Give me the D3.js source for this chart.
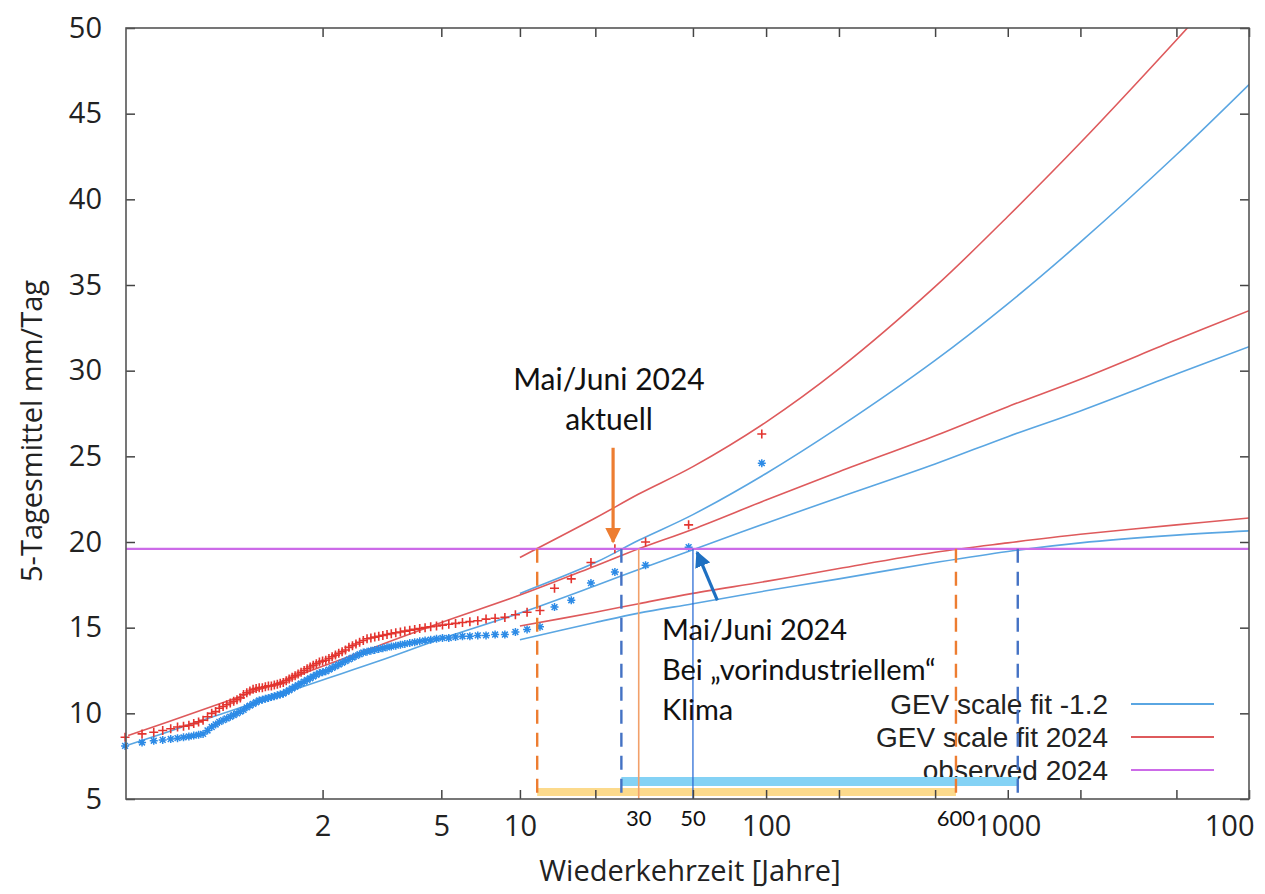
<!DOCTYPE html>
<html>
<head>
<meta charset="utf-8">
<script src="https://cdn.jsdelivr.net/npm/d3@7"></script>
<style>
  body { margin: 0; background: #fff; }
  svg text { font-family: "Open Sans", "DejaVu Sans", sans-serif; fill: #222; }
  .note { font-family: Lato, "Open Sans", sans-serif; fill: #111; }
  .legend-text { font-family: "Liberation Sans", Arial, sans-serif; fill: #222; }
</style>
</head>
<body>
<svg id="chart" width="1265" height="894"></svg>
<script>
// empirical return periods of the ranked 5-day maxima (rank 1 .. 95)
const returnPeriods = [
  96, 48, 32, 24, 19.2, 16, 13.71, 12, 10.67, 9.6,
  8.73, 8, 7.38, 6.86, 6.4, 6, 5.65, 5.33, 5.05, 4.8,
  4.57, 4.36, 4.17, 4, 3.84, 3.69, 3.56, 3.43, 3.31, 3.2,
  3.097, 3, 2.909, 2.824, 2.743, 2.667, 2.595, 2.526, 2.462, 2.4,
  2.341, 2.286, 2.233, 2.182, 2.133, 2.087, 2.043, 2, 1.959, 1.92,
  1.882, 1.846, 1.811, 1.778, 1.745, 1.714, 1.684, 1.655, 1.627, 1.6,
  1.574, 1.548, 1.524, 1.5, 1.477, 1.455, 1.433, 1.412, 1.391, 1.371,
  1.352, 1.333, 1.315, 1.297, 1.28, 1.263, 1.247, 1.231, 1.215, 1.2,
  1.185, 1.171, 1.157, 1.143, 1.129, 1.116, 1.103, 1.091, 1.079, 1.067,
  1.055, 1.043, 1.032, 1.021, 1.0105
];
// observations in the 2024 climate (red +)
const obs2024 = [
  26.3, 21.0, 20.0, 19.6, 18.8, 17.85, 17.3, 16.0, 15.9, 15.75,
  15.6, 15.55, 15.5, 15.4, 15.35, 15.3, 15.25, 15.2, 15.15, 15.1,
  15.05, 15.0, 14.95, 14.9, 14.85, 14.8, 14.75, 14.7, 14.65, 14.6,
  14.55, 14.5, 14.45, 14.4, 14.35, 14.25, 14.15, 14.05, 13.95, 13.85,
  13.7, 13.6, 13.5, 13.4, 13.3, 13.2, 13.1, 13.05, 13.0, 12.9,
  12.8, 12.7, 12.6, 12.5, 12.4, 12.3, 12.2, 12.1, 12.0, 11.9,
  11.8, 11.75, 11.7, 11.65, 11.6, 11.6, 11.55, 11.5, 11.5, 11.45,
  11.4, 11.3, 11.2, 11.1, 10.9, 10.8, 10.7, 10.6, 10.5, 10.4,
  10.3, 10.1, 10.0, 9.8, 9.6, 9.5, 9.4, 9.3, 9.25, 9.2,
  9.1, 9.0, 8.9, 8.8, 8.6
];
// same observations shifted to the -1.2 K climate (blue *)
const obsPre = [
  24.6, 19.7, 18.65, 18.25, 17.6, 16.6, 16.2, 15.05, 14.9, 14.75,
  14.6, 14.6, 14.55, 14.55, 14.5, 14.5, 14.45, 14.4, 14.4, 14.35,
  14.3, 14.25, 14.2, 14.15, 14.1, 14.05, 14.0, 13.95, 13.9, 13.85,
  13.8, 13.75, 13.7, 13.65, 13.6, 13.55, 13.45, 13.35, 13.25, 13.15,
  13.05, 12.95, 12.85, 12.75, 12.65, 12.55, 12.45, 12.4, 12.35, 12.25,
  12.15, 12.05, 11.95, 11.85, 11.75, 11.65, 11.55, 11.45, 11.35, 11.25,
  11.15, 11.1, 11.05, 11.0, 10.95, 10.9, 10.85, 10.8, 10.75, 10.65,
  10.55, 10.45, 10.35, 10.2, 10.1, 10.0, 9.9, 9.8, 9.7, 9.6,
  9.5, 9.35, 9.2, 9.0, 8.8, 8.75, 8.7, 8.65, 8.6, 8.55,
  8.5, 8.45, 8.4, 8.3, 8.1
];

// GEV fits, best estimate over full range
const fitT = [1.012, 1.1, 1.5, 2, 3, 5, 10, 20, 30, 50, 100, 200, 500, 1000, 2000, 5000, 10000];
const fit2024Mid = [8.7, 10.0, 11.7, 12.75, 13.95, 15.3, 16.9, 18.6, 19.6, 20.75, 22.45, 24.1, 26.2, 27.9, 29.5, 31.8, 33.5];
const fitPreMid = [8.15, 9.4, 11.0, 11.95, 13.05, 14.35, 15.85, 17.45, 18.4, 19.55, 21.1, 22.6, 24.55, 26.15, 27.65, 29.8, 31.4];
// confidence bounds, drawn from T = 10
const boundT = [10, 20, 30, 50, 100, 200, 500, 1000, 2000, 5000, 10000];
const fit2024Hi = [19.1, 21.4, 22.8, 24.4, 27.0, 30.1, 34.9, 39.0, 43.3, 49.3, 54.0];
const fit2024Lo = [15.1, 15.9, 16.4, 17.0, 17.7, 18.45, 19.4, 19.95, 20.45, 21.0, 21.4];
const fitPreHi = [17.0, 18.8, 20.1, 21.6, 24.0, 26.7, 30.6, 33.9, 37.5, 42.6, 46.7];
const fitPreLo = [14.3, 15.3, 15.85, 16.4, 17.15, 17.85, 18.8, 19.45, 19.95, 20.4, 20.65];

const observed2024 = 19.6;
const xTicks = [2, 5, 10, 20, 50, 100, 200, 500, 1000, 2000, 5000, 10000];
const xTickLabels = ["2", "5", "10", "", "", "100", "", "", "1000", "", "", "100"];
const yTicks = [5, 10, 15, 20, 25, 30, 35, 40, 45, 50];

// crossing points with the observed value (return periods)
const cross2024 = [11.7, 610];   // orange: 2024 climate upper / lower bound
const crossPre = [25.5, 1100];   // blue: pre-industrial upper / lower bound
const bestCross = { now: 30, pre: 50 };
const smallLabels = [{ T: 30, text: "30" }, { T: 50, text: "50" }, { T: 610, text: "600" }];

const legendItems = [
  { label: "GEV scale fit -1.2", color: "#5aa6e2" },
  { label: "GEV scale fit 2024", color: "#de5a5c" },
  { label: "observed 2024", color: "#cc6be8" }
];

const C = { red: "#de5a5c", blue: "#5aa6e2", redPt: "#e3342f", bluePt: "#2d8be6",
            magenta: "#cc6be8", orange: "#ed7d31", dblue: "#4472c4" };

const gumbel = T => -Math.log(-Math.log(1 - 1 / T));
const x = d3.scaleLinear().domain([-1.51, 9.21]).range([126, 1249]);
const y = d3.scaleLinear().domain([5, 50]).range([799, 28]);
const xT = T => x(gumbel(T));
const [plotLeft, plotRight] = x.range();
const [plotBottom, plotTop] = y.range();

const svg = d3.select("#chart");
svg.append("rect").attr("width", 1265).attr("height", 894).attr("fill", "#fff");

svg.append("clipPath").attr("id", "plot-clip")
  .append("rect").attr("x", plotLeft).attr("y", plotTop)
  .attr("width", plotRight - plotLeft).attr("height", plotBottom - plotTop);

const plot = svg.append("g").attr("clip-path", "url(#plot-clip)");

const line = d3.line().x(d => xT(d[0])).y(d => y(d[1])).curve(d3.curveCatmullRom.alpha(0.5));
const series = [
  { T: boundT, v: fitPreLo, c: C.blue },
  { T: boundT, v: fitPreHi, c: C.blue },
  { T: fitT, v: fitPreMid, c: C.blue },
  { T: boundT, v: fit2024Lo, c: C.red },
  { T: boundT, v: fit2024Hi, c: C.red },
  { T: fitT, v: fit2024Mid, c: C.red }
];
plot.selectAll("path.fit").data(series).join("path")
  .attr("class", "fit")
  .attr("d", s => line(s.T.map((t, i) => [t, s.v[i]])))
  .attr("fill", "none").attr("stroke", s => s.c).attr("stroke-width", 1.6);

// observed points
const plusPath = "M-4.5,0H4.5M0,-4.5V4.5";
const starPath = "M-4,0H4M0,-4V4M-2.9,-2.9L2.9,2.9M-2.9,2.9L2.9,-2.9";
svg.append("g").selectAll("path").data(returnPeriods.map((t, i) => [t, obsPre[i]])).join("path")
  .attr("transform", d => `translate(${xT(d[0])},${y(d[1])})`)
  .attr("d", starPath).attr("stroke", C.bluePt).attr("stroke-width", 1.5).attr("fill", "none");
svg.append("g").selectAll("path").data(returnPeriods.map((t, i) => [t, obs2024[i]])).join("path")
  .attr("transform", d => `translate(${xT(d[0])},${y(d[1])})`)
  .attr("d", plusPath).attr("stroke", C.redPt).attr("stroke-width", 1.6).attr("fill", "none");

// observed 2024 level
svg.append("line").attr("x1", plotLeft).attr("x2", plotRight)
  .attr("y1", y(observed2024)).attr("y2", y(observed2024))
  .attr("stroke", C.magenta).attr("stroke-width", 2.2);

// legend
const legend = svg.append("g");
legendItems.forEach((d, i) => {
  const ly = 704 + i * 33;
  legend.append("text").attr("class", "legend-text").attr("x", 1108).attr("y", ly + 10)
    .attr("text-anchor", "end").attr("font-size", 28).text(d.label);
  legend.append("line").attr("x1", 1131).attr("x2", 1214).attr("y1", ly).attr("y2", ly)
    .attr("stroke", d.color).attr("stroke-width", 2);
});

// ranges of return periods
svg.append("rect").attr("x", xT(crossPre[0])).attr("width", xT(crossPre[1]) - xT(crossPre[0]))
  .attr("y", 777).attr("height", 9).attr("fill", "#84d2f5");
svg.append("rect").attr("x", xT(cross2024[0])).attr("width", xT(cross2024[1]) - xT(cross2024[0]))
  .attr("y", 788).attr("height", 8).attr("fill", "#fcda8c");

// vertical markers
const vmark = (T, color, w, dash) => svg.append("line")
  .attr("x1", xT(T)).attr("x2", xT(T)).attr("y1", y(observed2024)).attr("y2", plotBottom)
  .attr("stroke", color).attr("stroke-width", w).attr("stroke-dasharray", dash);
cross2024.forEach(T => vmark(T, C.orange, 2.4, "14,9"));
crossPre.forEach(T => vmark(T, C.dblue, 2.4, "14,9"));
vmark(bestCross.now, "#f2a06a", 1.6, null);
vmark(bestCross.pre, "#2f6fd6", 1.3, null);

// arrows
const defs = svg.append("defs");
[["ah-orange", C.orange], ["ah-blue", "#1f70c1"]].forEach(([id, col]) => {
  defs.append("marker").attr("id", id).attr("viewBox", "0 0 10 10").attr("refX", 9).attr("refY", 5)
    .attr("markerWidth", 5).attr("markerHeight", 5).attr("orient", "auto-start-reverse")
    .append("path").attr("d", "M0,0L10,5L0,10Z").attr("fill", col);
});
svg.append("line").attr("x1", xT(23.6)).attr("x2", xT(23.6)).attr("y1", y(25.5)).attr("y2", y(20.0))
  .attr("stroke", C.orange).attr("stroke-width", 3.2).attr("marker-end", "url(#ah-orange)");
svg.append("line").attr("x1", xT(63)).attr("x2", xT(52)).attr("y1", y(16.6)).attr("y2", y(19.4))
  .attr("stroke", "#1f70c1").attr("stroke-width", 3.2).attr("marker-end", "url(#ah-blue)");

// annotation texts
const notes = svg.append("g");
notes.append("text").attr("class", "note").attr("x", 609).attr("y", 390).attr("text-anchor", "middle")
  .attr("font-size", 30).text("Mai/Juni 2024");
notes.append("text").attr("class", "note").attr("x", 609).attr("y", 430).attr("text-anchor", "middle")
  .attr("font-size", 30).text("aktuell");
["Mai/Juni 2024", "Bei \u201evorindustriellem\u201c", "Klima"].forEach((t, i) => {
  notes.append("text").attr("class", "note").attr("x", 662).attr("y", 640 + i * 40)
    .attr("font-size", 29).text(t);
});
smallLabels.forEach(d => {
  notes.append("text").attr("class", "note").attr("x", xT(d.T)).attr("y", 826)
    .attr("text-anchor", "middle").attr("font-size", 22).text(d.text);
});

// axes (gnuplot style: ticks inside, box border)
const xAxis = svg.append("g").attr("transform", `translate(0,${plotBottom})`)
  .call(d3.axisBottom(x).tickValues(xTicks.map(gumbel)).tickFormat((d, i) => xTickLabels[i])
    .tickSize(-9).tickPadding(16));
xAxis.selectAll("text").attr("font-size", 29).attr("fill", "#222");
xAxis.selectAll("text").filter((d, i) => i === xTicks.length - 1).attr("text-anchor", "end").attr("dx", 5);

svg.append("g").attr("transform", `translate(0,${plotTop})`)
  .call(d3.axisTop(x).tickValues(xTicks.map(gumbel)).tickFormat("").tickSize(-9));

const yAxis = svg.append("g").attr("transform", `translate(${plotLeft},0)`)
  .call(d3.axisLeft(y).tickValues(yTicks).tickSize(-9).tickPadding(24));
yAxis.selectAll("text").attr("font-size", 29).attr("fill", "#222");

svg.append("g").attr("transform", `translate(${plotRight},0)`)
  .call(d3.axisRight(y).tickValues(yTicks).tickFormat("").tickSize(-9));

svg.selectAll(".domain").remove();
svg.selectAll(".tick line").attr("stroke", "#444").attr("stroke-width", 1.5);

svg.append("rect").attr("x", plotLeft).attr("y", plotTop)
  .attr("width", plotRight - plotLeft).attr("height", plotBottom - plotTop)
  .attr("fill", "none").attr("stroke", "#555").attr("stroke-width", 1.6);

// axis titles
svg.append("text").attr("x", 690).attr("y", 881).attr("text-anchor", "middle")
  .attr("font-size", 29).text("Wiederkehrzeit [Jahre]");
svg.append("text").attr("transform", "translate(42,431) rotate(-90)").attr("text-anchor", "middle")
  .attr("font-size", 29).text("5-Tagesmittel mm/Tag");
</script>
</body>
</html>
